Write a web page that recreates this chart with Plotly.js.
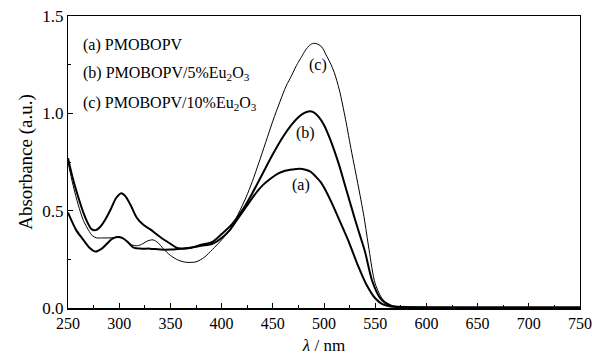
<!DOCTYPE html>
<html>
<head>
<meta charset="utf-8">
<script src="https://cdn.plot.ly/plotly-3.0.1.min.js"></script>
<style>html,body{margin:0;padding:0;background:#fff;}#chart{width:592px;height:357px;}</style>
</head>
<body>
<div id="chart"></div>
<script>
// (a) PMOBOPV
const waveA = [250,258,265,271,277,283,288,293,298,303,308,314,322,330,340,350,360,370,380,391,400,408,416,424,432,440,448,455,462,470,476,482,487,492,497,502,508,516,525,533,541,550,557,565,575,590,620,660,700,750];
const absA  = [0.49,0.40,0.35,0.31,0.29,0.305,0.33,0.355,0.365,0.36,0.34,0.31,0.305,0.305,0.30,0.30,0.305,0.31,0.32,0.33,0.36,0.40,0.46,0.52,0.58,0.63,0.665,0.69,0.705,0.712,0.715,0.71,0.70,0.675,0.645,0.60,0.535,0.44,0.33,0.22,0.125,0.05,0.02,0.008,0.004,0.003,0.002,0.002,0.002,0.002];
// (b) PMOBOPV/5%Eu2O3
const waveB = [250,255,260,265,269,273,277,282,287,292,297,302,306,311,317,323,330,340,350,356,362,370,380,391,400,410,420,430,440,450,460,468,475,480,485,490,495,500,505,510,515,520,525,530,535,540,547,555,565,580,620,660,700,750];
const absB  = [0.77,0.66,0.57,0.49,0.44,0.405,0.40,0.42,0.46,0.51,0.565,0.59,0.575,0.53,0.465,0.43,0.405,0.365,0.33,0.31,0.305,0.31,0.325,0.34,0.38,0.43,0.50,0.59,0.69,0.79,0.88,0.94,0.98,1.0,1.01,1.005,0.98,0.94,0.88,0.81,0.73,0.64,0.55,0.46,0.375,0.29,0.14,0.05,0.012,0.005,0.003,0.002,0.002,0.002];
// (c) PMOBOPV/10%Eu2O3
const waveC = [250,255,260,265,270,274,278,284,290,295,300,306,312,318,323,328,333,338,343,350,358,365,375,383,391,400,408,416,424,430,436,443,450,457,463,468,473,478,482,486,490,494,498,502,506,510,515,521,527,533,539,544,550,558,568,580,620,660,700,750];
const absC  = [0.75,0.63,0.53,0.45,0.40,0.37,0.36,0.36,0.36,0.362,0.365,0.35,0.325,0.32,0.33,0.345,0.35,0.335,0.305,0.27,0.245,0.235,0.237,0.26,0.30,0.35,0.40,0.48,0.57,0.65,0.74,0.85,0.96,1.06,1.14,1.19,1.245,1.29,1.325,1.35,1.36,1.355,1.34,1.30,1.26,1.21,1.12,0.97,0.80,0.64,0.47,0.30,0.125,0.04,0.01,0.005,0.003,0.002,0.002,0.002];

const legendLines = ['(a) PMOBOPV','(b) PMOBOPV/5%Eu<sub>2</sub>O<sub>3</sub>','(c) PMOBOPV/10%Eu<sub>2</sub>O<sub>3</sub>'];
const curveLabels = ['(a)','(b)','(c)'];
const labelX = [478, 482, 494];
const labelY = [0.63, 0.90, 1.25];

const FONT = "'Liberation Serif', 'Times New Roman', Times, serif";
const traces = [
  {x: waveA, y: absA, mode:'lines', line:{color:'#000', width:2, shape:'spline', smoothing:0.8}},
  {x: waveB, y: absB, mode:'lines', line:{color:'#000', width:2, shape:'spline', smoothing:0.8}},
  {x: waveC, y: absC, mode:'lines', line:{color:'#000', width:1, shape:'spline', smoothing:0.8}}
];

const annotations = [];
legendLines.forEach((t,i)=>{
  annotations.push({xref:'paper', yref:'paper', x:0.025, y:0.902 - i*0.1, xanchor:'left', yanchor:'middle', text:t, showarrow:false, font:{family:FONT, size:16, color:'#000'}});
});
curveLabels.forEach((t,i)=>{
  annotations.push({x:labelX[i], y:labelY[i], text:t, showarrow:false, font:{family:FONT, size:16, color:'#000'}});
});

const layout = {
  width:592, height:357,
  margin:{l:68, r:12, t:16, b:49},
  paper_bgcolor:'#fff', plot_bgcolor:'#fff',
  showlegend:false,
  font:{family:FONT, size:16, color:'#000'},
  xaxis:{
    range:[250,750], dtick:50, tick0:250, ticks:'inside', ticklen:5, tickwidth:1, tickcolor:'#000',
    minor:{dtick:25, ticks:'inside', ticklen:3, tickcolor:'#000'},
    showline:true, linecolor:'#000', linewidth:1.5, mirror:true, showgrid:false, zeroline:false,
    ticklabeloverflow:'allow',
    tickfont:{family:FONT, size:16},
    title:{text:'<i>λ</i> / nm', font:{family:FONT, size:17}, standoff:8}
  },
  yaxis:{
    range:[0,1.5], dtick:0.5, tick0:0, tickformat:'.1f', ticks:'inside', ticklen:5, tickwidth:1, tickcolor:'#000',
    minor:{dtick:0.25, ticks:'inside', ticklen:3, tickcolor:'#000'},
    showline:true, linecolor:'#000', linewidth:1, mirror:true, showgrid:false, zeroline:false,
    ticklabeloverflow:'allow',
    tickfont:{family:FONT, size:17},
    title:{text:'Absorbance (a.u.)', font:{family:FONT, size:19}, standoff:4}
  },
  annotations: annotations
};
Plotly.newPlot('chart', traces, layout, {displayModeBar:false, staticPlot:true});
</script>
</body>
</html>
